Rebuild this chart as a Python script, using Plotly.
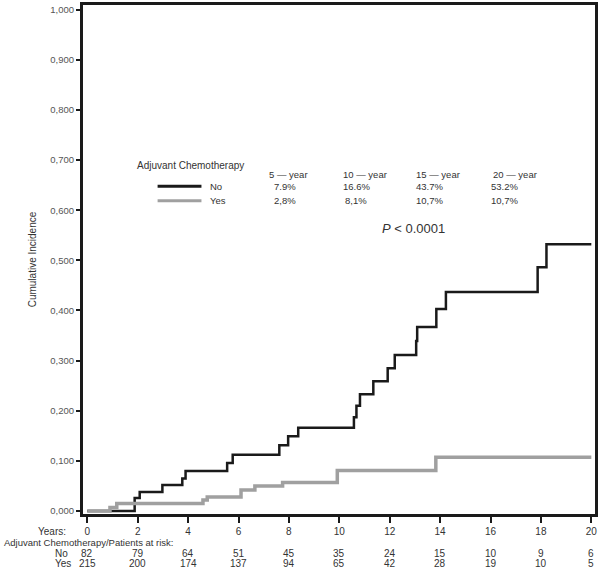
import plotly.graph_objects as go

# ---- data ----
no_t = [0, 1.88, 2.08, 2.98, 3.77, 3.90, 5.55, 5.77, 7.62, 7.97, 8.37, 10.58, 10.68, 10.82,
        11.35, 11.92, 12.20, 13.05, 13.09, 13.85, 14.23, 17.87, 18.22, 20]
no_v = [0, 0.026, 0.038, 0.052, 0.065, 0.080, 0.096, 0.112, 0.131, 0.149, 0.166, 0.187, 0.210, 0.233,
        0.259, 0.285, 0.311, 0.339, 0.367, 0.403, 0.437, 0.486, 0.532, 0.532]
yes_t = [0, 0.90, 1.17, 4.59, 4.76, 6.10, 6.65, 7.75, 9.92, 13.83, 20]
yes_v = [0, 0.007, 0.015, 0.022, 0.028, 0.042, 0.050, 0.057, 0.081, 0.107, 0.107]

x_ticks = [0, 2, 4, 6, 8, 10, 12, 14, 16, 18, 20]
y_ticks = [0, 0.1, 0.2, 0.3, 0.4, 0.5, 0.6, 0.7, 0.8, 0.9, 1.0]
y_ticktext = ["0,000", "0,100", "0,200", "0,300", "0,400", "0,500", "0,600", "0,700", "0,800", "0,900", "1,000"]

at_risk_no = [82, 79, 64, 51, 45, 35, 24, 15, 10, 9, 6]
at_risk_yes = [215, 200, 174, 137, 94, 65, 42, 28, 19, 10, 5]

summary_headers = ["5 \u2014 year", "10 \u2014 year", "15 \u2014 year", "20 \u2014 year"]
summary_no = ["7.9%", "16.6%", "43.7%", "53.2%"]
summary_yes = ["2,8%", "8,1%", "10,7%", "10,7%"]

# ---- layout constants ----
BLACK = "#1a1a1a"
GRAY = "#a0a0a0"
TXT = "#333333"
FONT = "Liberation Sans, Arial, sans-serif"

fig = go.Figure()
fig.add_trace(go.Scatter(x=no_t, y=no_v, mode="lines", line=dict(color=BLACK, width=2.5, shape="hv"),
                         name="No", showlegend=False))
fig.add_trace(go.Scatter(x=yes_t, y=yes_v, mode="lines", line=dict(color=GRAY, width=3.5, shape="hv"),
                         name="Yes", showlegend=False))

ann = []
# legend block (data coordinates)
ann.append(dict(x=1.885, y=0.690, xref="x", yref="y", text="Adjuvant Chemotherapy", showarrow=False,
                xanchor="left", yanchor="middle", font=dict(size=10, color=TXT, family=FONT)))
hdr_x = [7.97, 11.0, 13.9, 16.98]
val_x = [7.85, 10.68, 13.58, 16.55]
for hx, h in zip(hdr_x, summary_headers):
    ann.append(dict(x=hx, y=0.672, xref="x", yref="y", text=h, showarrow=False, xanchor="center",
                    yanchor="middle", font=dict(size=9.5, color=TXT, family=FONT)))
for vx, a, b in zip(val_x, summary_no, summary_yes):
    ann.append(dict(x=vx, y=0.648, xref="x", yref="y", text=a, showarrow=False, xanchor="center",
                    yanchor="middle", font=dict(size=9.5, color=TXT, family=FONT)))
    ann.append(dict(x=vx, y=0.619, xref="x", yref="y", text=b, showarrow=False, xanchor="center",
                    yanchor="middle", font=dict(size=9.5, color=TXT, family=FONT)))
ann.append(dict(x=4.77, y=0.648, xref="x", yref="y", text="No", showarrow=False, xanchor="left",
                yanchor="middle", font=dict(size=9.5, color=TXT, family=FONT)))
ann.append(dict(x=4.77, y=0.619, xref="x", yref="y", text="Yes", showarrow=False, xanchor="left",
                yanchor="middle", font=dict(size=9.5, color=TXT, family=FONT)))
ann.append(dict(x=12.95, y=0.563, xref="x", yref="y", text="<i>P</i> < 0.0001", showarrow=False,
                xanchor="center", yanchor="middle", font=dict(size=13, color=TXT, family=FONT)))

# at-risk table
ann.append(dict(x=0, y=0, xref="paper", yref="paper", xshift=-15, yshift=-17, text="Years:",
                showarrow=False, xanchor="right", yanchor="middle", font=dict(size=10, color=TXT, family=FONT)))
ann.append(dict(x=0, y=0, xref="paper", yref="paper", xshift=-81, yshift=-28,
                text="Adjuvant Chemotherapy/Patients at risk:", showarrow=False, xanchor="left",
                yanchor="middle", font=dict(size=9.5, color=TXT, family=FONT)))
ann.append(dict(x=0, y=0, xref="paper", yref="paper", xshift=-30, yshift=-39, text="No",
                showarrow=False, xanchor="left", yanchor="middle", font=dict(size=10, color=TXT, family=FONT)))
ann.append(dict(x=0, y=0, xref="paper", yref="paper", xshift=-30, yshift=-49, text="Yes",
                showarrow=False, xanchor="left", yanchor="middle", font=dict(size=10, color=TXT, family=FONT)))
for t, a, b in zip(x_ticks, at_risk_no, at_risk_yes):
    ann.append(dict(x=t, y=0, xref="x", yref="paper", yshift=-39, text=str(a), showarrow=False,
                    xanchor="center", yanchor="middle", font=dict(size=10, color=TXT, family=FONT)))
    ann.append(dict(x=t, y=0, xref="x", yref="paper", yshift=-49, text=str(b), showarrow=False,
                    xanchor="center", yanchor="middle", font=dict(size=10, color=TXT, family=FONT)))

shapes = [
    dict(type="line", xref="x", yref="y", x0=2.79, x1=4.53, y0=0.648, y1=0.648,
         line=dict(color=BLACK, width=3)),
    dict(type="line", xref="x", yref="y", x0=2.79, x1=4.53, y0=0.619, y1=0.619,
         line=dict(color=GRAY, width=3)),
]

fig.update_layout(
    width=600, height=570,
    margin=dict(l=83, r=3, t=2, b=56),
    paper_bgcolor="white", plot_bgcolor="white",
    annotations=ann, shapes=shapes,
    font=dict(family=FONT, size=10, color=TXT),
    xaxis=dict(range=[-0.17, 20.146], tickvals=x_ticks, ticktext=[str(v) for v in x_ticks],
               showgrid=False, zeroline=False, showline=True, linecolor=BLACK, linewidth=3, mirror=True,
               ticks="outside", ticklen=6, tickwidth=1.5, tickcolor=BLACK,
               tickfont=dict(size=10, color=TXT, family=FONT)),
    yaxis=dict(range=[-0.00595, 1.00932], tickvals=y_ticks, ticktext=y_ticktext,
               showgrid=False, zeroline=False, showline=True, linecolor=BLACK, linewidth=3, mirror=True,
               ticks="outside", ticklen=4, tickwidth=1.5, tickcolor=BLACK,
               tickfont=dict(size=9.5, color="#555555", family=FONT),
               title=dict(text="Cumulative Incidence", standoff=12,
                          font=dict(size=10, color=TXT, family=FONT))),
)

fig.write_html("out.html", config={"displayModeBar": False},
               post_script="document.body.style.margin='0';document.body.style.overflow='hidden';")
